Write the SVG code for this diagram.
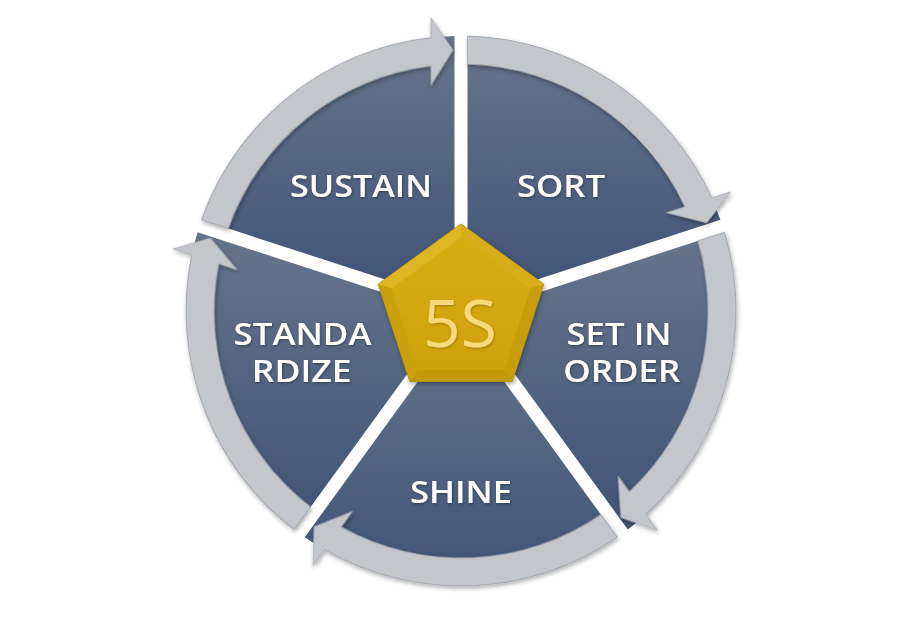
<svg xmlns="http://www.w3.org/2000/svg" width="923" height="620" viewBox="0 0 923 620">
  <defs>
    <linearGradient id="wedgeGrad" x1="0" y1="0" x2="0" y2="1">
      <stop offset="0" stop-color="#67758b"/>
      <stop offset="1" stop-color="#3f5376"/>
    </linearGradient>
    <linearGradient id="faceGrad" x1="0" y1="0" x2="0" y2="1">
      <stop offset="0" stop-color="#d8ad14"/>
      <stop offset="1" stop-color="#cda20b"/>
    </linearGradient>
    <filter id="shadow" x="-20%" y="-20%" width="140%" height="140%">
      <feDropShadow dx="1" dy="2" stdDeviation="2" flood-color="#000" flood-opacity="0.35"/>
    </filter>
    <filter id="txtShadow" x="-10%" y="-20%" width="120%" height="140%">
      <feDropShadow dx="0.8" dy="1.2" stdDeviation="0.8" flood-color="#1c2a40" flood-opacity="0.6"/>
    </filter>
    <filter id="goldShadow" x="-10%" y="-20%" width="120%" height="140%">
      <feDropShadow dx="0.8" dy="1.2" stdDeviation="0.8" flood-color="#8a6a00" flood-opacity="0.7"/>
    </filter>
    <path id="band" d="M 6.5,-274.92 A 275 275 0 0 1 250.71,-113.00 L 269.39,-119.07 L 245.75,-88.26 L 205.67,-98.37 L 223.90,-104.29 A 247 247 0 0 0 6.5,-246.91 Z"/>
  </defs>
  <style>
    .wedge { fill: url(#wedgeGrad); }
    .band { fill: #c3c6cb; stroke: #a4a8b0; stroke-width: 0.8; }
    .label { font-family: "Open Sans", "Liberation Sans", sans-serif; font-weight: 600; font-size: 30px; fill: #ffffff; text-anchor: middle; }
    .center { font-family: "Open Sans", "Liberation Sans", sans-serif; font-weight: 400; font-size: 66px; fill: #f8da7c; text-anchor: middle; }
  </style>
  <rect width="923" height="620" fill="#ffffff"/>

  <g id="node-sort">
    <path class="wedge" d="M 467.5,302.05 L 467.5,36.08 A 275 275 0 0 1 720.47,219.87 Z"/>
  </g>
  <g id="node-set-in-order">
    <path class="wedge" d="M 471.52,314.42 L 724.47,232.23 A 275 275 0 0 1 627.85,529.61 Z"/>
  </g>
  <g id="node-shine">
    <path class="wedge" d="M 461,322.06 L 617.34,537.24 A 275 275 0 0 1 304.65,537.24 Z"/>
  </g>
  <g id="node-standardize">
    <path class="wedge" d="M 450.48,314.42 L 294.15,529.60 A 275 275 0 0 1 197.51,232.22 Z"/>
  </g>
  <g id="node-sustain">
    <path class="wedge" d="M 454.5,302.05 L 201.54,219.86 A 275 275 0 0 1 454.51,36.07 Z"/>
  </g>

  <g id="connectors" filter="url(#shadow)">
    <g transform="translate(461,311)">
      <use href="#band" class="band"/>
      <use href="#band" class="band" transform="rotate(72)"/>
      <use href="#band" class="band" transform="rotate(144)"/>
      <use href="#band" class="band" transform="rotate(216)"/>
      <use href="#band" class="band" transform="rotate(288)"/>
    </g>
  </g>

  <g id="labels" filter="url(#txtShadow)">
    <text class="label" x="361" y="197" textLength="142" lengthAdjust="spacingAndGlyphs">SUSTAIN</text>
    <text class="label" x="561" y="197" textLength="88" lengthAdjust="spacingAndGlyphs">SORT</text>
    <text class="label" x="302.5" y="345" textLength="138" lengthAdjust="spacingAndGlyphs">STANDA</text>
    <text class="label" x="301.7" y="382" textLength="100" lengthAdjust="spacingAndGlyphs">RDIZE</text>
    <text class="label" x="619" y="345" textLength="105" lengthAdjust="spacingAndGlyphs">SET IN</text>
    <text class="label" x="621.7" y="382" textLength="117" lengthAdjust="spacingAndGlyphs">ORDER</text>
    <text class="label" x="461" y="503" textLength="102" lengthAdjust="spacingAndGlyphs">SHINE</text>
  </g>

  <g id="node-5s">
    <g filter="url(#shadow)">
      <polygon points="461,224 543.74,284.12 512.14,381.38 409.86,381.38 378.26,284.12" fill="#d0a50d" stroke="#b38c08" stroke-width="1"/>
    </g>
    <polygon points="378.26,284.12 461,224 461,238 391.6,288.5" fill="#ddb525"/>
    <polygon points="461,224 543.74,284.12 530.4,288.5 461,238" fill="#d7ae1a"/>
    <polygon points="543.74,284.12 512.14,381.38 503.9,370 530.4,288.5" fill="#c89d0a"/>
    <polygon points="512.14,381.38 409.86,381.38 418.1,370 503.9,370" fill="#c3980a"/>
    <polygon points="409.86,381.38 378.26,284.12 391.6,288.5 418.1,370" fill="#cca10e"/>
    <polygon points="461,238 530.4,288.5 503.9,370 418.1,370 391.6,288.5" fill="url(#faceGrad)"/>
    <text class="center" x="460" y="347" filter="url(#goldShadow)">5S</text>
  </g>
</svg>
